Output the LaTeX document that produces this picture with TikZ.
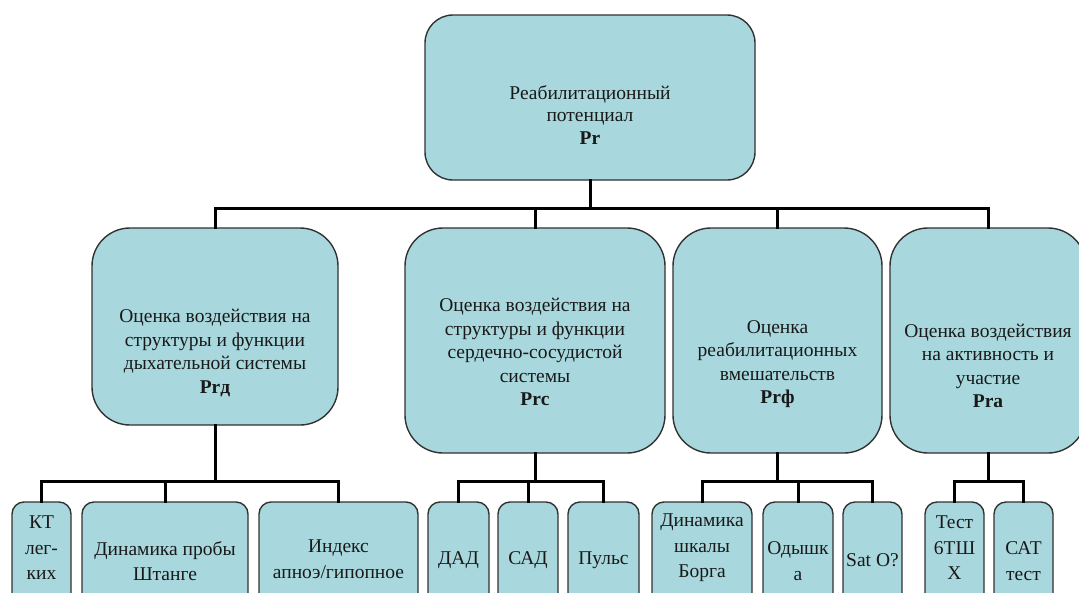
\documentclass[tikz,border=0pt]{standalone}
\usepackage{fontspec}
\setmainfont{Liberation Serif}
\definecolor{boxfill}{RGB}{168,216,221}
\definecolor{boxline}{RGB}{50,50,50}
\tikzset{
  basebox/.style={draw=boxline, fill=boxfill, line width=1.4pt, inner sep=0pt},
  topbox/.style={basebox, rounded corners=28pt},
  midbox/.style={basebox, rounded corners=38pt},
  leafbox/.style={basebox, rounded corners=12pt},
  toptext/.style={align=center, inner sep=0pt, text=black!90, font=\fontsize{19.5}{22.5}\selectfont},
  midtext/.style={align=center, inner sep=0pt, text=black!90, font=\fontsize{19.5}{23.5}\selectfont},
  leaftext/.style={align=center, inner sep=0pt, text=black!90, font=\fontsize{19.5}{25.5}\selectfont},
  conn/.style={line width=3pt, line cap=rect}
}
\begin{document}
\begin{tikzpicture}[x=1pt, y=-1pt]
\useasboundingbox (0,0) rectangle (1079,592);
\clip (0,0) rectangle (1079,592);
\fill[white] (0,0) rectangle (1079,592);

% bus coordinates
\coordinate (busA) at (0,208);
\coordinate (busB) at (0,481);

% top box
\node[topbox, minimum width=330pt, minimum height=165pt] (top) at (590,97.5) {};
\node[toptext] (ttop) at (590,115) {Реабилитационный\\потенциал\\\textbf{Pr}};

% level 2 boxes
\node[midbox, minimum width=246pt, minimum height=197pt] (b1) at (215,326.5) {};
\node[midbox, minimum width=260pt, minimum height=225pt] (b2) at (535,340.5) {};
\node[midbox, minimum width=209pt, minimum height=225pt] (b3) at (777.5,340.5) {};
\node[midbox, minimum width=196pt, minimum height=225pt] (b4) at (988,340.5) {};

\node[midtext] (t1) at (215,353) {Оценка воздействия на\\структуры и функции\\дыхательной системы\\\textbf{Prд}};
\node[midtext] (t2) at (535,352) {Оценка воздействия на\\структуры и функции\\сердечно-сосудистой\\системы\\\textbf{Prс}};
\node[midtext] (t3) at (777.5,364) {Оценка\\реабилитационных\\вмешательств\\\textbf{Prф}};
\node[midtext] (t4) at (988,366) {Оценка воздействия\\на активность и\\участие\\\textbf{Prа}};

% leaves
\node[leafbox, minimum width=59pt, minimum height=118pt] (l1) at (41.5,561) {};
\node[leafbox, minimum width=166pt, minimum height=118pt] (l2) at (165,561) {};
\node[leafbox, minimum width=159pt, minimum height=118pt] (l3) at (338.5,561) {};
\node[leafbox, minimum width=61pt, minimum height=118pt] (l4) at (458.5,561) {};
\node[leafbox, minimum width=60pt, minimum height=118pt] (l5) at (528,561) {};
\node[leafbox, minimum width=71pt, minimum height=118pt] (l6) at (603.5,561) {};
\node[leafbox, minimum width=100pt, minimum height=118pt] (l7) at (702,561) {};
\node[leafbox, minimum width=70pt, minimum height=118pt] (l8) at (798,561) {};
\node[leafbox, minimum width=59pt, minimum height=118pt] (l9) at (872.5,561) {};
\node[leafbox, minimum width=59pt, minimum height=118pt] (l10) at (954.5,561) {};
\node[leafbox, minimum width=59pt, minimum height=118pt] (l11) at (1023.5,561) {};

\node[leaftext] (lt1) at (41.5,548) {КТ\\лег-\\ких};
\node[leaftext] (lt2) at (165,561) {Динамика пробы\\Штанге};
\node[leaftext] (lt3) at (338.5,559) {Индекс\\апноэ/гипопное};
\node[leaftext] (lt4) at (458.5,560) {ДАД};
\node[leaftext] (lt5) at (528,560) {САД};
\node[leaftext] (lt6) at (603.5,560) {Пульс};
\node[leaftext] (lt7) at (702,548) {Динамика\\шкалы\\Борга};
\node[leaftext] (lt8) at (798,561) {Одышк\\а};
\node[leaftext] (lt9) at (872.5,560) {Sat O?};
\node[leaftext] (lt10) at (954.5,548) {Тест\\6ТШ\\Х};
\node[leaftext] (lt11) at (1023.5,561) {САТ\\тест};

% connectors: top level
\draw[conn] (top.south) -- (top.south |- busA);
\draw[conn] (b1.north) |- (b4.north |- busA) -- (b4.north);
\draw[conn] (b2.north) -- (b2.north |- busA);
\draw[conn] (b3.north) -- (b3.north |- busA);

% connectors: leaves
\draw[conn] (b1.south) -- (b1.south |- busB);
\draw[conn] (l1.north) |- (l3.north |- busB) -- (l3.north);
\draw[conn] (l2.north) -- (l2.north |- busB);

\draw[conn] (b2.south) -- (b2.south |- busB);
\draw[conn] (l4.north) |- (l6.north |- busB) -- (l6.north);
\draw[conn] (l5.north) -- (l5.north |- busB);

\draw[conn] (b3.south) -- (b3.south |- busB);
\draw[conn] (l7.north) |- (l9.north |- busB) -- (l9.north);
\draw[conn] (l8.north) -- (l8.north |- busB);

\draw[conn] (b4.south) -- (b4.south |- busB);
\draw[conn] (l10.north) |- (l11.north |- busB) -- (l11.north);
\end{tikzpicture}
\end{document}
